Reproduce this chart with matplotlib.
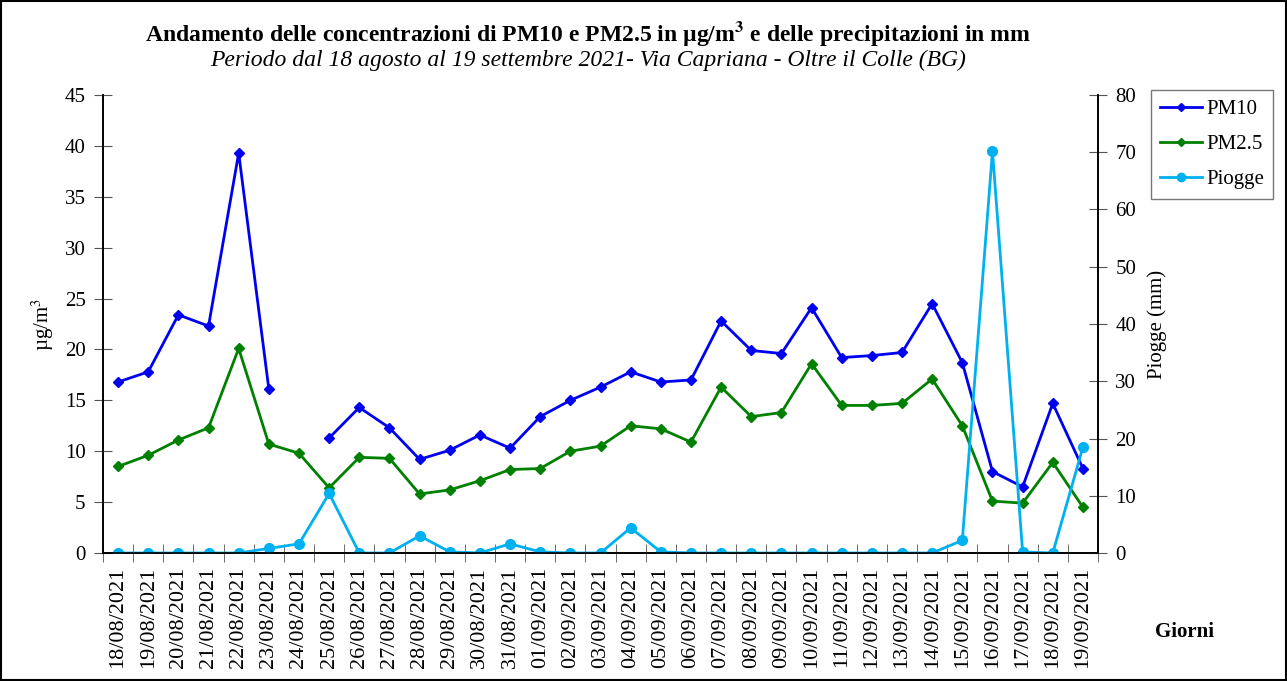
import numpy as np
import matplotlib
matplotlib.use("Agg")
import matplotlib.pyplot as plt
from matplotlib.lines import Line2D
from matplotlib.patches import Rectangle

plt.rcParams['font.family'] = ['Liberation Serif', 'DejaVu Serif']
plt.rcParams['mathtext.fontset'] = 'stix'

# dates (x axis)
giorni = ["18/08/2021", "19/08/2021", "20/08/2021", "21/08/2021", "22/08/2021",
          "23/08/2021", "24/08/2021", "25/08/2021", "26/08/2021", "27/08/2021",
          "28/08/2021", "29/08/2021", "30/08/2021", "31/08/2021", "01/09/2021",
          "02/09/2021", "03/09/2021", "04/09/2021", "05/09/2021", "06/09/2021",
          "07/09/2021", "08/09/2021", "09/09/2021", "10/09/2021", "11/09/2021",
          "12/09/2021", "13/09/2021", "14/09/2021", "15/09/2021", "16/09/2021",
          "17/09/2021", "18/09/2021", "19/09/2021"]

# ug/m3
pm10 = [16.8, 17.8, 23.4, 22.3, 39.3, 16.1, np.nan, 11.3, 14.3, 12.3,
        9.2, 10.1, 11.6, 10.3, 13.4, 15.0, 16.3, 17.8, 16.8, 17.0,
        22.8, 19.9, 19.6, 24.1, 19.2, 19.4, 19.7, 24.5, 18.7, 8.0,
        6.5, 14.7, 8.3]
pm25 = [8.5, 9.6, 11.1, 12.3, 20.1, 10.7, 9.8, 6.4, 9.4, 9.3,
        5.8, 6.2, 7.1, 8.2, 8.3, 10.0, 10.5, 12.5, 12.2, 10.9,
        16.3, 13.4, 13.8, 18.6, 14.5, 14.5, 14.7, 17.1, 12.5, 5.1,
        4.9, 8.9, 4.5]
# mm
piogge = [0, 0, 0, 0, 0, 0.8, 1.6, 10.4, 0, 0,
          3.0, 0.2, 0, 1.6, 0.2, 0, 0, 4.4, 0.2, 0,
          0, 0, 0, 0, 0, 0, 0, 0, 2.2, 70.2,
          0.2, 0, 18.5]

c_pm10 = "#0000F0"
c_pm25 = "#008000"
c_piog = "#00B0F0"

fig = plt.figure(figsize=(12.87, 6.81), dpi=100)
ax = fig.add_axes([103 / 1287, 1 - 553 / 681, 995 / 1287, 458 / 681])
ax2 = ax.twinx()

x = np.arange(len(giorni))
ax.plot(x, pm10, color=c_pm10, lw=2, marker="D", ms=5, label="PM10")
ax.plot(x, pm25, color=c_pm25, lw=2, marker="D", ms=5, label="PM2.5")
ax2.plot(x, piogge, color=c_piog, lw=2, marker="o", ms=7, label="Piogge")

ax.set_xlim(-0.5, len(giorni) - 0.5)
ax.set_ylim(0, 45)
ax.set_yticks(np.arange(0, 46, 5))
ax2.set_ylim(0, 80)
ax2.set_yticks(np.arange(0, 81, 10))

ax.set_xticks(x)
ax.set_xticklabels(giorni, rotation=90, fontsize=16)
ax.set_xticks(np.arange(-0.5, len(giorni), 1), minor=True)
ax.tick_params(axis="x", which="major", length=0, pad=10)
ax.tick_params(axis="x", which="minor", length=13, direction="inout", color="#555555")
ax.tick_params(axis="y", length=13, direction="inout", labelsize=15, color="#555555", pad=6)
ax2.tick_params(axis="y", length=13, direction="inout", labelsize=15, color="#555555", pad=6)

for a in (ax, ax2):
    a.spines["top"].set_visible(False)
    for s in ("left", "right", "bottom"):
        a.spines[s].set_linewidth(1.2)

ax.set_ylabel("µg/m$^3$", fontsize=15, labelpad=6)
ax2.set_ylabel("Piogge (mm)", fontsize=15, labelpad=8)

fig.text(588 / 1287, 1 - 33 / 681, "Andamento delle concentrazioni di PM10 e PM2.5 in µg/m$^\\mathbf{3}$ e delle precipitazioni in mm",
         ha="center", va="center", fontsize=17, fontweight="bold")
fig.text(588 / 1287, 1 - 60 / 681, "Periodo dal 18 agosto al 19 settembre 2021- Via Capriana - Oltre il Colle (BG)",
         ha="center", va="center", fontsize=17, style="italic")
fig.text(1185 / 1287, 1 - 632 / 681, "Giorni", ha="center", va="center", fontsize=15, fontweight="bold")

handles = [Line2D([], [], color=c_pm10, lw=2, marker="D", ms=4),
           Line2D([], [], color=c_pm25, lw=2, marker="D", ms=4),
           Line2D([], [], color=c_piog, lw=2, marker="o", ms=6)]
leg = fig.legend(handles, ["PM10", "PM2.5", "Piogge"], loc="upper left",
                 bbox_to_anchor=(1151 / 1287, 1 - 90 / 681), fontsize=15,
                 frameon=True, fancybox=False, edgecolor="#555555",
                 handlelength=2.0, handletextpad=0.2, borderpad=0.45, labelspacing=0.75,
                 borderaxespad=0)
leg.get_frame().set_linewidth(1.0)

fig.patches.append(Rectangle((0.001, 0.001), 0.998, 0.997, transform=fig.transFigure,
                             fill=False, edgecolor="black", lw=1.5))

fig.savefig("out.png", dpi=100)
